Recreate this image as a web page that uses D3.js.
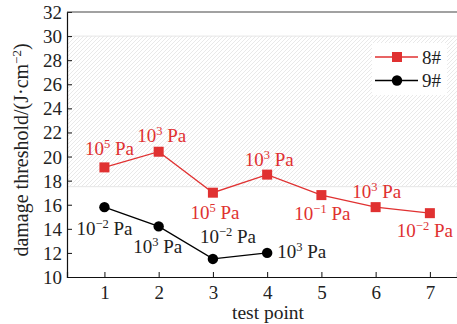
<!DOCTYPE html>
<html><head><meta charset="utf-8">
<script src="https://cdn.jsdelivr.net/npm/d3@7"></script>
<style>body{margin:0;background:#fff}svg{display:block}svg text{font-family:'Liberation Serif','Times New Roman',Times,'DejaVu Serif',serif !important}</style>
</head><body><svg id="c" width="457" height="324"></svg>
<script>
const testPoints = [1,2,3,4,5,6,7];
const s8 = [19.1,20.4,17.0,18.5,16.8,15.8,15.3];
const s9 = [15.8,14.2,11.5,12.0];
const p8 = [5,3,5,3,-1,3,-2];     // pressure exponent: 10^n Pa
const p9 = [-2,3,-2,3];
const yTicks = [10,12,14,16,18,20,22,24,26,28,30,32];
const seriesNames = ["8#","9#"];
const bandRange = [17.5,30];

const FONT = "'Liberation Serif','Times New Roman',Times,'DejaVu Serif',serif";
const RED = "#e03131", BLK = "#000", BLKTXT = "#222";
const svg = d3.select("#c");
const L = 67, R = 457, T = 12, B = 277;
const x = d3.scaleLinear().domain([0.31,7.5]).range([L,R]);
const y = d3.scaleLinear().domain([10,32]).range([B,T]);

// hatch pattern
const defs = svg.append("defs");
const pat = defs.append("pattern").attr("id","hatch").attr("patternUnits","userSpaceOnUse")
  .attr("width",4).attr("height",4);
pat.append("path").attr("d","M-1,1 l2,-2 M0,4 l4,-4 M3,5 l2,-2").attr("stroke","#dadada").attr("stroke-width",0.6);
svg.append("rect").attr("x",L).attr("y",y(bandRange[1])).attr("width",R-L)
  .attr("height",y(bandRange[0])-y(bandRange[1])).attr("fill","url(#hatch)");
[bandRange[0],bandRange[1]].forEach(v=>svg.append("line").attr("x1",L).attr("x2",R)
  .attr("y1",y(v)).attr("y2",y(v)).attr("stroke","#e6e6e6").attr("stroke-width",1));

// axes
const ax = svg.append("g").attr("transform",`translate(0,${B})`)
  .call(d3.axisBottom(x).tickValues(testPoints).tickSize(-5).tickPadding(9).tickFormat(d3.format("d")));
const ay = svg.append("g").attr("transform",`translate(${L},0)`)
  .call(d3.axisLeft(y).tickValues(yTicks).tickSize(-5).tickPadding(5));
[ax,ay].forEach(g=>{
  g.attr("font-family",FONT).attr("font-size",19);
  g.select(".domain").attr("stroke","#111").attr("stroke-width",1.2);
  g.selectAll(".tick line").attr("stroke","#111").attr("stroke-width",1);
  g.selectAll("text").attr("fill","#222");
});
ax.selectAll("text").attr("dy","0.71em");
ay.selectAll("text").attr("dy","0.34em");
// top frame
svg.append("line").attr("x1",L).attr("x2",R).attr("y1",T).attr("y2",T).attr("stroke","#444").attr("stroke-width",1.2);

// axis titles
svg.append("text").attr("x",268).attr("y",319).attr("text-anchor","middle").attr("font-family",FONT).attr("font-size",19.5).attr("fill","#222").text("test point");
const yt = svg.append("text").attr("transform","translate(28,150) rotate(-90)").attr("text-anchor","middle")
  .attr("font-family",FONT).attr("font-size",20).attr("fill","#222");
yt.append("tspan").text("damage threshold/(J·cm");
yt.append("tspan").attr("dy",-7).attr("font-size",13).text("−2");
yt.append("tspan").attr("dy",7).text(")");

// lines
const line = d3.line().x(d=>x(d[0])).y(d=>y(d[1]));
const d8 = s8.map((v,i)=>[testPoints[i],v]);
const d9 = s9.map((v,i)=>[testPoints[i],v]);
svg.append("path").datum(d8).attr("d",line).attr("fill","none").attr("stroke",RED).attr("stroke-width",1.3);
svg.append("path").datum(d9).attr("d",line).attr("fill","none").attr("stroke",BLK).attr("stroke-width",1.3);
svg.selectAll(".sq").data(d8).join("rect").attr("x",d=>x(d[0])-5).attr("y",d=>y(d[1])-5)
  .attr("width",10).attr("height",10).attr("fill",RED);
svg.selectAll(".ci").data(d9).join("circle").attr("cx",d=>x(d[0])).attr("cy",d=>y(d[1])).attr("r",5.2).attr("fill",BLK);

// pressure labels
const off8 = [[5,-12,"middle"],[3,-10,"middle"],[2,26,"middle"],[2,-9,"middle"],[1,25,"middle"],[1,-9,"middle"],[-5,24,"middle"]];
const off9 = [[0,28,"middle"],[-1,27,"middle"],[15,-16,"middle"],[10,5,"start"]];
function label(px,py,exp,o,col){
  const t = svg.append("text").attr("x",px+o[0]).attr("y",py+o[1]).attr("text-anchor",o[2])
    .attr("font-family",FONT).attr("font-size",19).attr("fill",col);
  t.append("tspan").text("10");
  t.append("tspan").attr("dy",-7).attr("font-size",12.5).text(exp<0?"−"+(-exp):String(exp));
  t.append("tspan").attr("dy",7).text(" Pa");
}
d8.forEach((d,i)=>label(x(d[0]),y(d[1]),p8[i],off8[i],RED));
d9.forEach((d,i)=>label(x(d[0]),y(d[1]),p9[i],off9[i],BLKTXT));

// legend
const lg = svg.append("g");
lg.append("rect").attr("x",372).attr("y",43).attr("width",75).attr("height",52).attr("fill","#fff");
seriesNames.forEach((n,i)=>{
  const yy = 57 + i*23.5, col = i===0?RED:BLK;
  lg.append("line").attr("x1",375).attr("x2",418).attr("y1",yy).attr("y2",yy).attr("stroke",col).attr("stroke-width",1.3);
  if(i===0) lg.append("rect").attr("x",392).attr("y",yy-5).attr("width",10).attr("height",10).attr("fill",col);
  else lg.append("circle").attr("cx",397).attr("cy",yy).attr("r",5.2).attr("fill",col);
  lg.append("text").attr("x",422).attr("y",yy+6.5).attr("font-family",FONT).attr("font-size",19).attr("fill","#222").text(n);
});
</script></body></html>
